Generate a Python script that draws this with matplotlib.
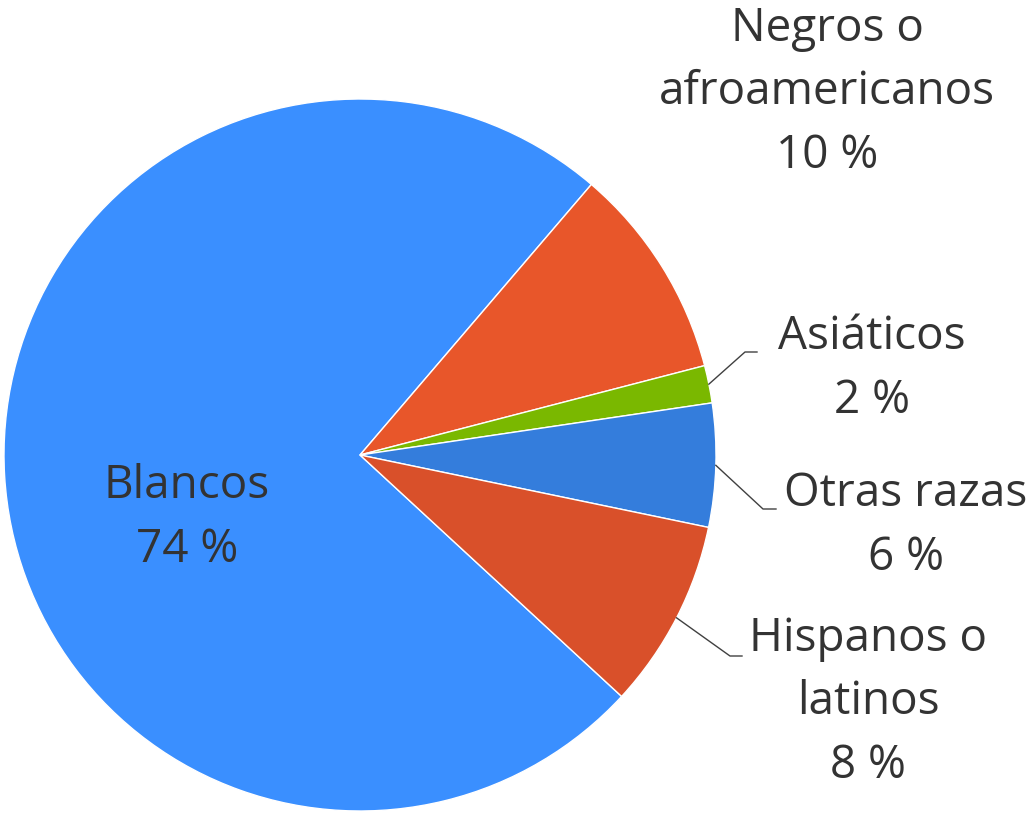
import numpy as np
import matplotlib.pyplot as plt

plt.rcParams['font.family'] = ['Open Sans', 'DejaVu Sans']

# data (share of population, %)
categories = ['Blancos', 'Negros o\nafroamericanos', 'Asiáticos', 'Otras razas', 'Hispanos o\nlatinos']
values = [74.4, 9.7, 1.7, 5.6, 8.6]
pct_labels = ['74 %', '10 %', '2 %', '6 %', '8 %']
colors = ['#3a8fff', '#e8562a', '#7ab800', '#347ddc', '#d9502a']

W, H = 1026, 813
fig = plt.figure(figsize=(W / 100, H / 100), dpi=100)
ax = fig.add_axes([0, 0, 1, 1])

cx, cy, r = 360, H - 455, 356
wedges, _ = ax.pie(values, colors=colors, startangle=317.3, counterclock=False,
                   center=(cx, cy), radius=r,
                   wedgeprops=dict(edgecolor='white', linewidth=1))
ax.set_xlim(0, W)
ax.set_ylim(0, H)
ax.set_aspect('equal')
ax.axis('off')

# label layout in pixel coords (x centre, last baseline from top)
label_pos = [(187, 562), (827, 168), (872, 413), (906, 570), (868, 778)]
# leader lines: elbow and end (pixel coords from top), None = no line
leaders = [None, None, ((745, 352), (757, 352)), ((763, 509), (776, 509)),
           ((730, 656), (742, 656))]

for i, w in enumerate(wedges):
    x, y = label_pos[i]
    ax.text(x, H - y, categories[i] + '\n' + pct_labels[i], ha='center', va='baseline',
            fontsize=33, color='#333333', linespacing=1.5)
    if leaders[i] is not None:
        mid = np.deg2rad((w.theta1 + w.theta2) / 2)
        sx, sy = cx + r * np.cos(mid), cy + r * np.sin(mid)
        (ex, ey), (fx, fy) = leaders[i]
        ax.plot([sx, ex, fx], [sy, H - ey, H - fy], color='#404040', linewidth=1)

fig.savefig('out.png', dpi=100)
